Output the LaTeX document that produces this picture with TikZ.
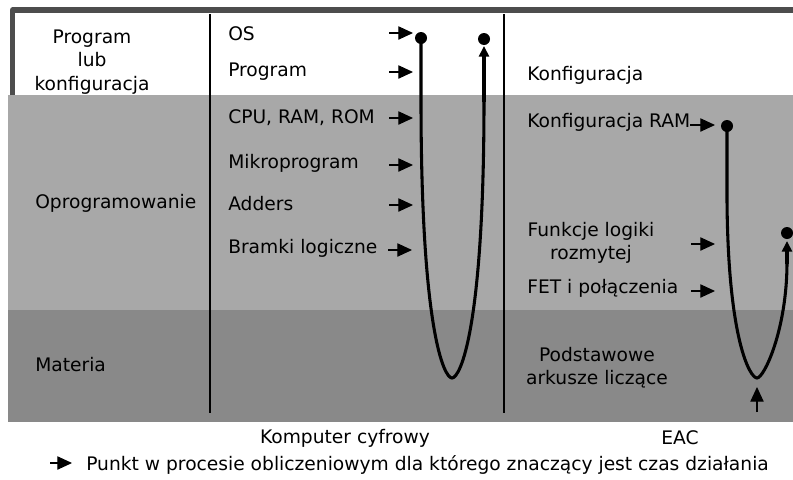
\documentclass[tikz,border=0pt]{standalone}
\usepackage{fontspec}
\setmainfont{DejaVu Sans}
\usetikzlibrary{arrows.meta}
\definecolor{bandlight}{HTML}{A8A8A8}
\definecolor{banddark}{HTML}{898989}
\definecolor{framegray}{HTML}{4D4D4D}
\tikzset{
  lbl/.style={inner sep=0pt, font=\fontsize{14pt}{17.5pt}\selectfont, text=black},
  lblw/.style={lbl, anchor=west},
  stack/.style={lbl, align=center},
  tmark/.style={-{Triangle[length=11pt,width=10pt]}, line width=0.8pt},
  flow/.style={line width=2.3pt},
  flowtip/.style={flow, -{Triangle[length=8pt,width=7.5pt]}},
  dotmark/.style={circle, fill=black, inner sep=0pt, minimum size=9pt},
  divider/.style={line width=1.6pt},
}
\begin{document}
\begin{tikzpicture}[x=0.75pt,y=-0.75pt]
\useasboundingbox (0,0) rectangle (793,479);

% layers
\fill[bandlight] (8,95) rectangle (793,310);
\fill[banddark] (8,310) rectangle (793,422);
\draw[framegray, line width=3.8pt, line join=round] (12.5,95) -- (12.5,10) -- (795,10);

% column dividers
\draw[divider] (210,14) -- (210,413);
\draw[divider] (504,14) -- (504,413);

% row labels
\node[stack] (prog) at (92,62) {Program\\lub\\konfiguracja};
\node[lblw] (oprog) at (35,203) {Oprogramowanie};
\node[lblw] (mat) at (35,365) {Materia};

% digital computer column
\node[lblw] (os) at (228,34) {OS};
\node[lblw] (pr) at (228,72) {Program};
\node[lblw] (cpu) at (228,118) {CPU, RAM, ROM};
\node[lblw] (mik) at (228,163) {Mikroprogram};
\node[lblw] (add) at (228,204) {Adders};
\node[lblw] (bram) at (228,248) {Bramki logiczne};

\coordinate (osA) at (389,33);  \coordinate (osB) at (413,33);
\coordinate (prA) at (389,72);  \coordinate (prB) at (413,72);
\coordinate (cpuA) at (389,118); \coordinate (cpuB) at (413,118);
\coordinate (mikA) at (389,165); \coordinate (mikB) at (413,165);
\coordinate (addA) at (389,205); \coordinate (addB) at (413,205);
\coordinate (bramA) at (388,250); \coordinate (bramB) at (412,250);
\foreach \m in {os,pr,cpu,mik,add,bram} \draw[tmark] (\m A) -- (\m B);

\node[dotmark] (d1) at (421,38) {};
\node[dotmark] (d2) at (484,39) {};
\coordinate (d2tip) at (484,46);
\draw[flow] (d1.center) -- (421,100) .. controls (421,330) and (444,378) .. (452,378)
  .. controls (460,378) and (484,330) .. (484,100);
\draw[flowtip] (484,102) -- (d2tip);

% EAC column
\node[lblw] (konf) at (527,75) {Konfiguracja};
\node[lblw] (kram) at (527,122) {Konfiguracja RAM};
\node[stack] (fun) at (591,243) {Funkcje logiki\\rozmytej};
\node[lblw] (fet) at (527,288) {FET i połączenia};
\node[stack] (pods) at (597,368) {Podstawowe\\arkusze liczące};

\coordinate (kramA) at (690,125); \coordinate (kramB) at (715,125);
\coordinate (funA) at (691,244); \coordinate (funB) at (715,244);
\coordinate (fetA) at (691,291); \coordinate (fetB) at (715,291);
\foreach \m in {kram,fun,fet} \draw[tmark] (\m A) -- (\m B);

\node[dotmark] (e1) at (727,126) {};
\node[dotmark] (e2) at (787,233) {};
\coordinate (e2tip) at (787,241);
\draw[flow] (e1.center) -- (727,200) .. controls (728,340) and (750,378) .. (757,378)
  .. controls (764,378) and (787,330) .. (787,262);
\draw[flowtip] (787,264) -- (e2tip);
\coordinate (eupA) at (757,412); \coordinate (eupB) at (757,387);
\draw[tmark] (eupA) -- (eupB);

% column titles and legend
\node[lbl] (kc) at (345,438) {Komputer cyfrowy};
\node[lbl] (eac) at (680,438) {EAC};
\coordinate (legA) at (50,463); \coordinate (legB) at (72,463);
\draw[tmark] (legA) -- (legB);
\node[lblw] (leg) at (86,465) {Punkt w procesie obliczeniowym dla którego znaczący jest czas działania};
\end{tikzpicture}
\end{document}
